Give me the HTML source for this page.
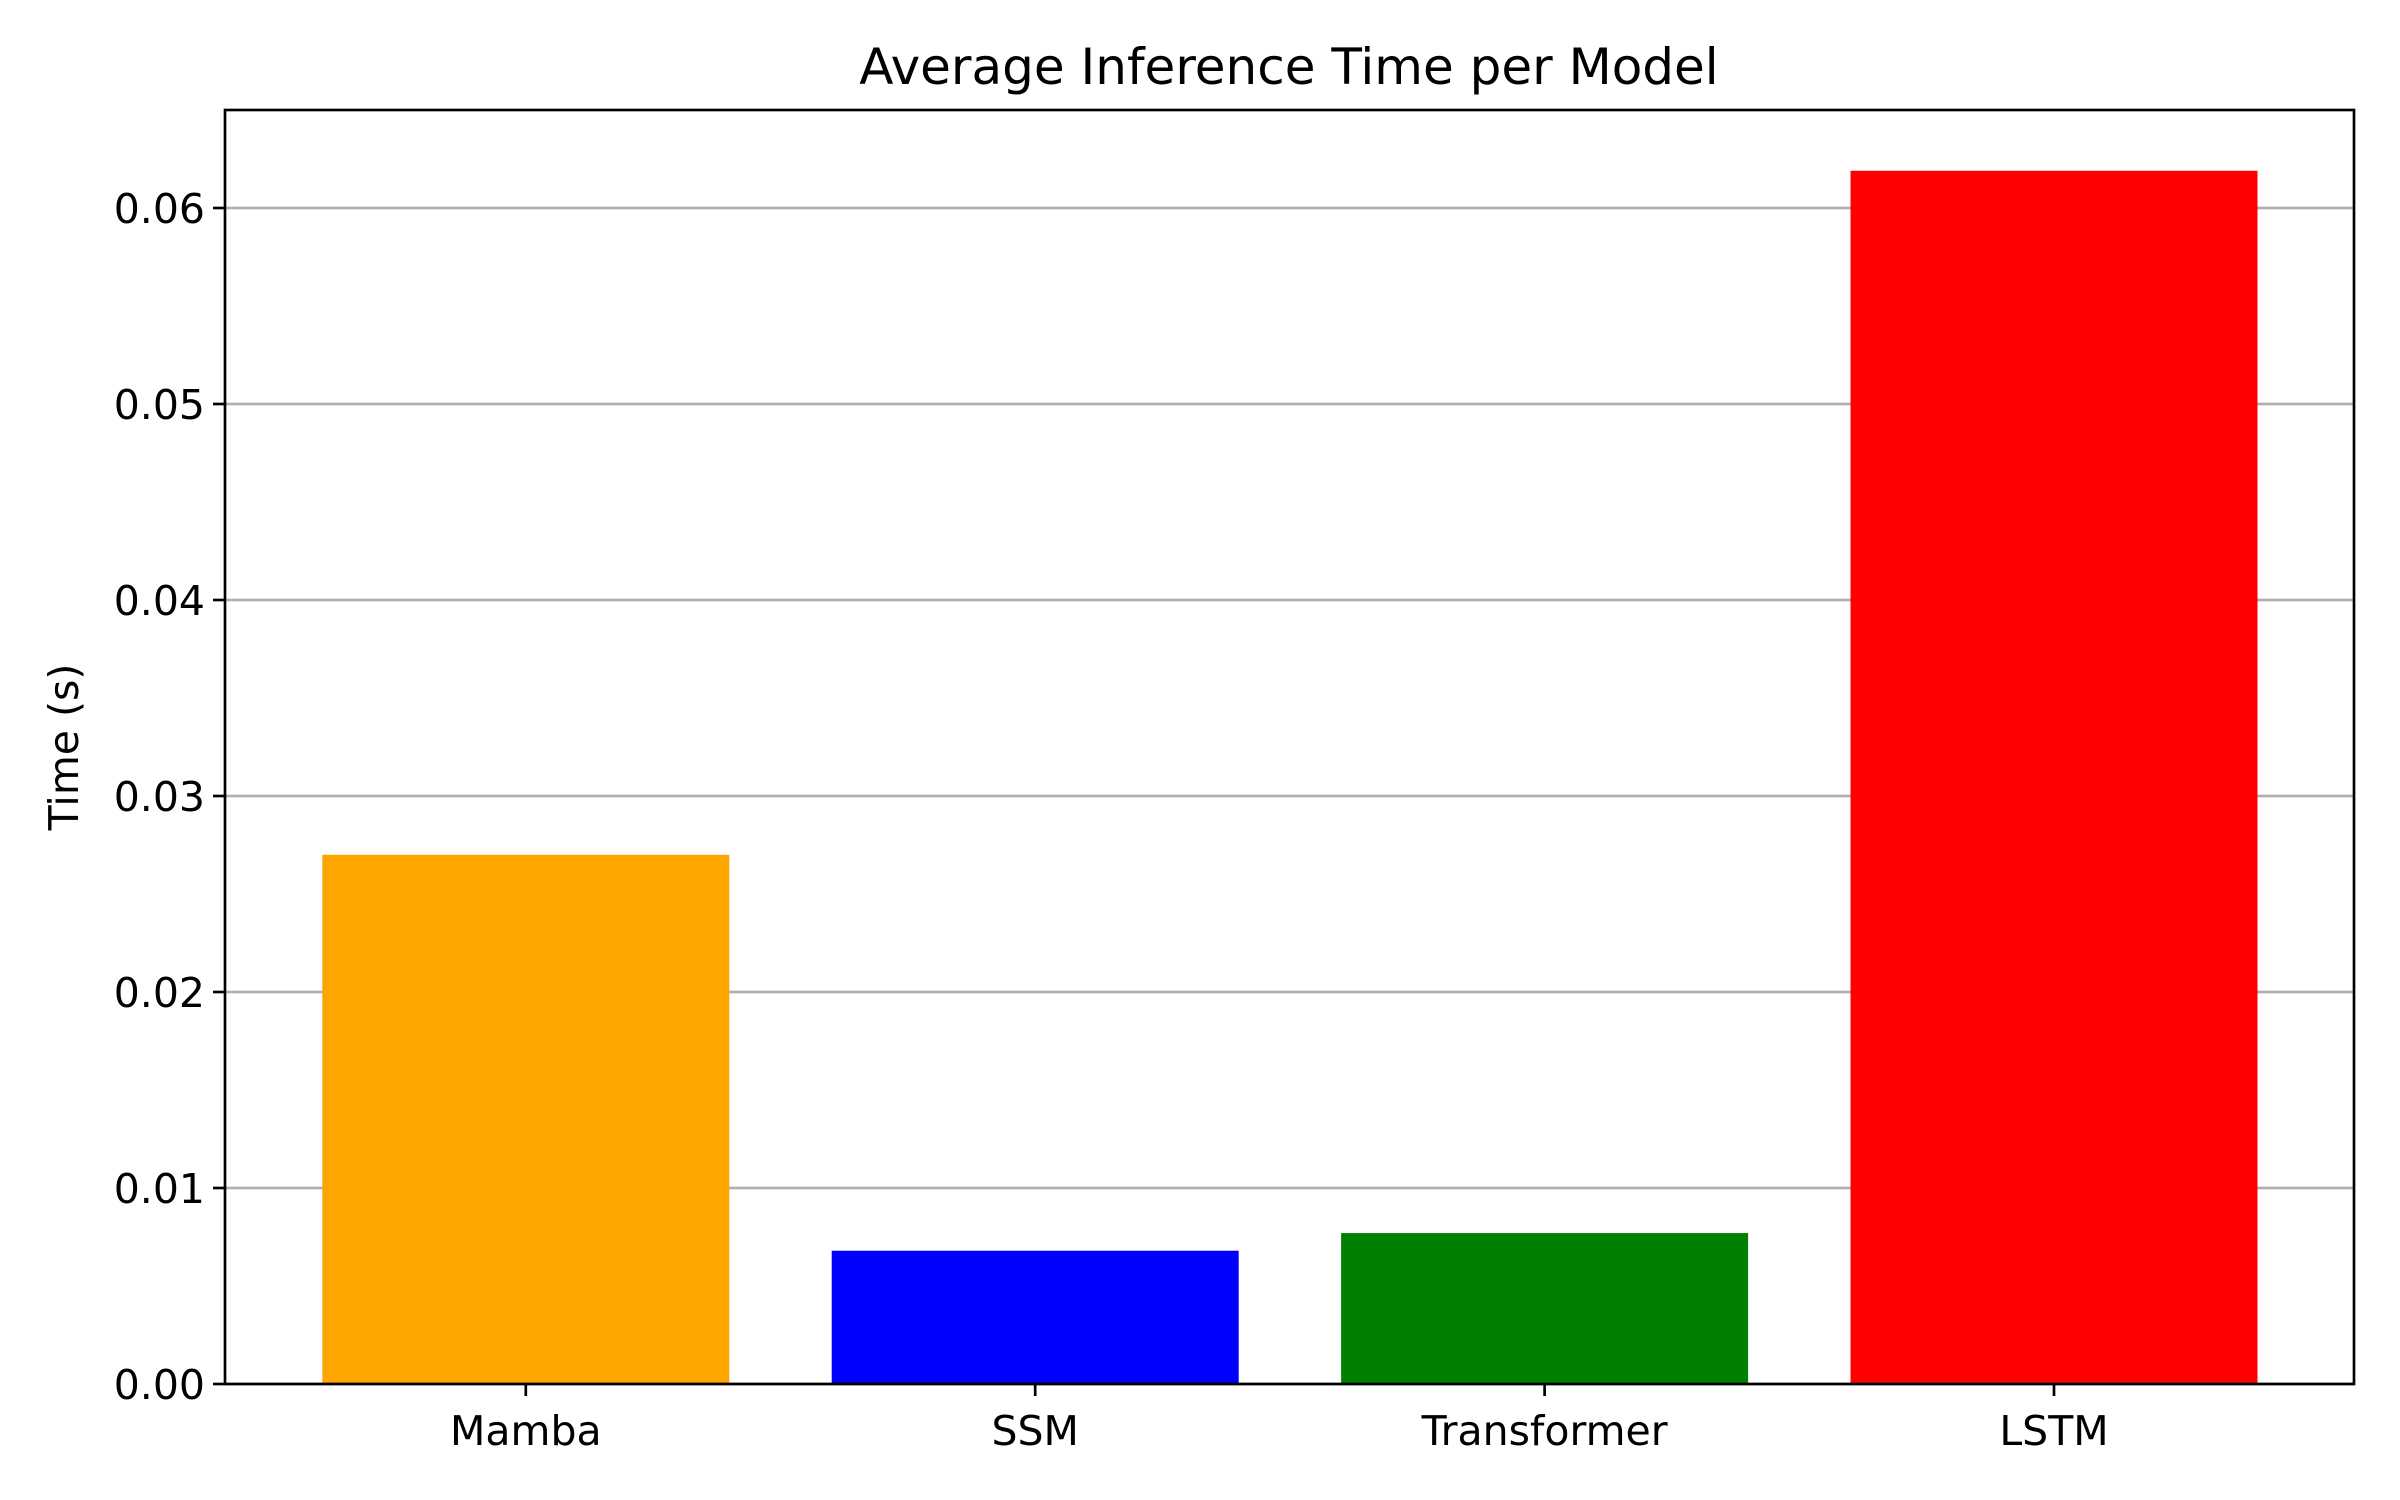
<!DOCTYPE html>
<html><head><meta charset="utf-8"><style>
html,body{margin:0;padding:0;background:#fff;}
svg{display:block;font-family:"DejaVu Sans","Liberation Sans",sans-serif;}
</style></head><body>
<svg id="chart" width="2400" height="1500" viewBox="0 0 2400 1500" xmlns="http://www.w3.org/2000/svg">
<rect width="2400" height="1500" fill="#fff"/>
<g id="grid"></g><g id="bars"></g><g id="axes"></g>
<text x="1289" y="84" font-size="50" text-anchor="middle">Average Inference Time per Model</text>
<text x="0" y="0" font-size="41" text-anchor="middle" transform="translate(78,747) rotate(-90)">Time (s)</text>
</svg>
<script>
const categories = ["Mamba","SSM","Transformer","LSTM"];
const values = [0.0270, 0.0068, 0.0077, 0.0619];
const colors = ["orange","blue","green","red"];
const yTicks = [0,0.01,0.02,0.03,0.04,0.05,0.06];
const yTickLabels = ["0.00","0.01","0.02","0.03","0.04","0.05","0.06"];

const L=225,R=2354,T=110,B=1384;
const yMax=0.065;
const step=509.4, x0=525.8, bw=407;
const xScale=i=>x0+i*step;
const yScale=v=>B-v/yMax*(B-T);
const NS="http://www.w3.org/2000/svg";
function mk(tag,attrs,parent,text){const e=document.createElementNS(NS,tag);for(const k in attrs)e.setAttribute(k,attrs[k]);if(text!==undefined)e.textContent=text;parent.appendChild(e);return e;}
const grid=document.getElementById('grid'),bars=document.getElementById('bars'),axes=document.getElementById('axes');
yTicks.forEach((t,i)=>{
  const y=yScale(t);
  const g=mk('line',{x1:L,x2:R,y1:y,y2:y,stroke:'#b0b0b0','stroke-width':2.67},grid);
  
  
  const tk=mk('line',{x1:L-12,x2:L,y1:y,y2:y,stroke:'#000','stroke-width':2.67},axes);
  
  
  const lb=mk('text',{x:L-20,y:y+15,'font-size':41,'text-anchor':'end'},axes,yTickLabels[i]);
  
  
});
categories.forEach((c,i)=>{
  const cx=xScale(i),y=yScale(values[i]);
  const r=mk('rect',{x:cx-bw/2,y:y,width:bw,height:B-y,fill:colors[i]},bars);
  
  
  const tk=mk('line',{x1:cx,x2:cx,y1:B,y2:B+12,stroke:'#000','stroke-width':2.67},axes);
  
  
  const lb=mk('text',{x:cx,y:B+61,'font-size':41,'text-anchor':'middle'},axes,c);
  
  
});
const fr=mk('rect',{x:L,y:T,width:R-L,height:B-T,fill:'none',stroke:'#000','stroke-width':2.67},axes);


</script>
</body></html>
